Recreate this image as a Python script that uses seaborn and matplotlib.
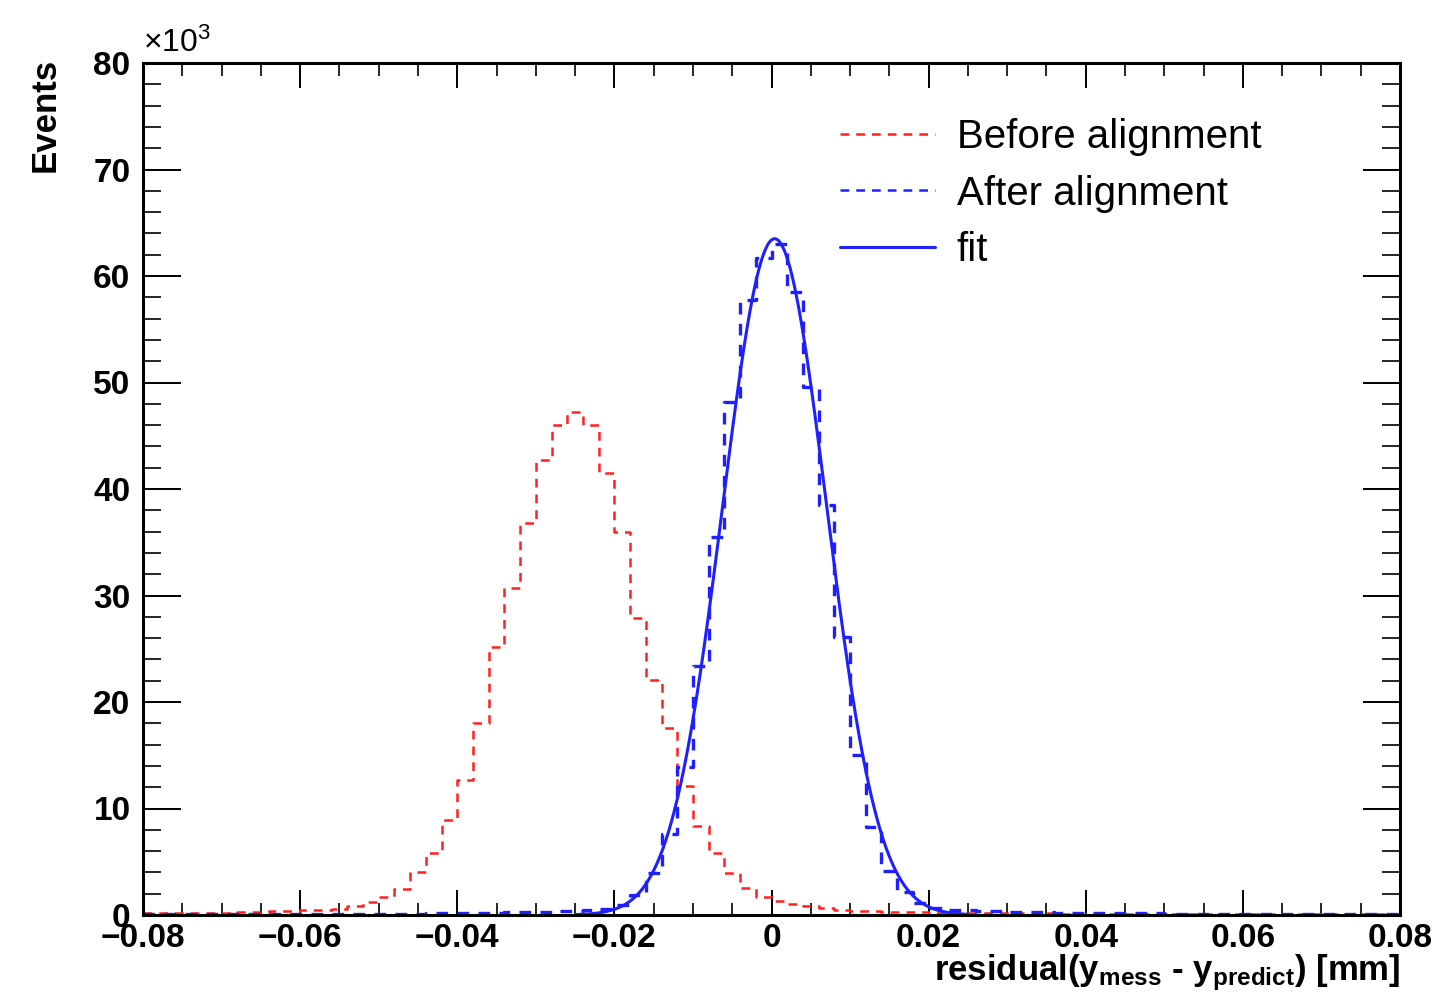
import numpy as np
import pandas as pd
import matplotlib
matplotlib.use("Agg")
import matplotlib.pyplot as plt
from matplotlib.ticker import MultipleLocator, FuncFormatter
from matplotlib.lines import Line2D
import seaborn as sns

# 80 bins of 0.002 mm from -0.08 to 0.08, counts in units of 10^3 events
bin_width = 0.002
x_range = (-0.08, 0.08)

before_counts = [
    0.15, 0.15, 0.18, 0.20, 0.20, 0.22, 0.25, 0.30, 0.35, 0.40,
    0.45, 0.50, 0.60, 0.80, 1.2, 1.7, 2.4, 4.0, 5.8, 8.9,
    12.7, 18.0, 25.2, 30.7, 36.8, 42.7, 46.0, 47.2, 46.0, 41.5,
    36.0, 27.9, 22.1, 17.6, 12.1, 8.4, 5.8, 3.9, 2.5, 1.7,
    1.3, 1.0, 0.80, 0.65, 0.50, 0.40, 0.35, 0.30, 0.28, 0.25,
    0.22, 0.20, 0.20, 0.18, 0.17, 0.16, 0.15, 0.15, 0.14, 0.13,
    0.12, 0.12, 0.11, 0.11, 0.10, 0.10, 0.10, 0.09, 0.09, 0.09,
    0.09, 0.08, 0.08, 0.08, 0.08, 0.08, 0.08, 0.08, 0.08, 0.08,
]

after_counts = [
    0.10, 0.10, 0.10, 0.10, 0.10, 0.10, 0.10, 0.10, 0.10, 0.10,
    0.12, 0.12, 0.12, 0.13, 0.13, 0.13, 0.14, 0.14, 0.15, 0.15,
    0.18, 0.20, 0.22, 0.25, 0.30, 0.30, 0.35, 0.40, 0.50, 0.60,
    0.90, 1.9, 3.9, 7.6, 13.9, 23.4, 35.5, 48.2, 57.7, 61.7,
    63.0, 58.5, 49.6, 38.5, 26.1, 15.0, 8.3, 4.1, 2.2, 1.1,
    0.70, 0.50, 0.45, 0.40, 0.35, 0.30, 0.28, 0.25, 0.22, 0.20,
    0.15, 0.15, 0.15, 0.15, 0.15, 0.14, 0.14, 0.13, 0.13, 0.12,
    0.10, 0.10, 0.10, 0.10, 0.10, 0.10, 0.10, 0.10, 0.10, 0.10,
]

# gaussian fit to the "after" histogram
fit_const = 63.5
fit_mean = 0.0004
fit_sigma = 0.0066
fit_range = (-0.025, 0.025)

labels = ["Before alignment", "After alignment", "fit"]

centers = np.round(x_range[0] + bin_width * (np.arange(len(before_counts)) + 0.5), 5)
df = pd.DataFrame({"x": centers, "before": before_counts, "after": after_counts})

xf = np.linspace(fit_range[0], fit_range[1], 400)
fit_df = pd.DataFrame({"x": xf,
                       "y": fit_const * np.exp(-0.5 * ((xf - fit_mean) / fit_sigma) ** 2)})

sns.set_style("ticks")
plt.rcParams["font.family"] = ["Liberation Sans", "DejaVu Sans"]
plt.rcParams["mathtext.default"] = "regular"
plt.rcParams["text.color"] = "black"
plt.rcParams["xtick.color"] = "black"
plt.rcParams["ytick.color"] = "black"

fig = plt.figure(figsize=(14.35, 10.01), dpi=100)
ax = fig.add_axes([143 / 1435, 1 - 915 / 1001, 1257 / 1435, 852 / 1001])

red = "#ff2020"
blue = "#2020ff"
dash = (0, (3.5, 2.8))

sns.histplot(x=df["x"], weights=df["before"], binwidth=bin_width, binrange=x_range,
             element="step", fill=False, color=red, linestyle=dash, linewidth=1.8, ax=ax)
sns.histplot(x=df["x"], weights=df["after"], binwidth=bin_width, binrange=x_range,
             element="step", fill=False, color=blue, linestyle=dash, linewidth=2.4, ax=ax)
sns.lineplot(data=fit_df, x="x", y="y", color=blue, linewidth=2.2, ax=ax)

ax.set_xlim(*x_range)
ax.set_ylim(0, 80)
ax.set_xlabel("")
ax.set_ylabel("")

ax.xaxis.set_major_locator(MultipleLocator(0.02))
ax.xaxis.set_minor_locator(MultipleLocator(0.005))
ax.yaxis.set_major_locator(MultipleLocator(10))
ax.yaxis.set_minor_locator(MultipleLocator(2))
ax.xaxis.set_major_formatter(FuncFormatter(lambda v, p: "0" if abs(v) < 1e-9 else f"{v:.2f}".replace("-", "\u2212")))
ax.yaxis.set_major_formatter(FuncFormatter(lambda v, p: f"{v:.0f}"))

ax.tick_params(axis="x", which="major", direction="in", top=True, bottom=True,
               length=18, width=1.4, pad=6, labelsize=24)
ax.tick_params(axis="x", which="minor", direction="in", top=True, bottom=True,
               length=9, width=1.2)
ax.tick_params(axis="y", which="major", direction="in", left=True, right=True,
               length=27, width=1.4, pad=9, labelsize=24)
ax.tick_params(axis="y", which="minor", direction="in", left=True, right=True,
               length=13, width=1.2)
for lab in ax.get_xticklabels() + ax.get_yticklabels():
    lab.set_fontweight("bold")
for sp in ax.spines.values():
    sp.set_visible(True)
    sp.set_linewidth(2.2)
    sp.set_color("black")

handles = [
    Line2D([], [], color=red, linestyle=dash, linewidth=1.8),
    Line2D([], [], color=blue, linestyle=dash, linewidth=1.8),
    Line2D([], [], color=blue, linewidth=2.2),
]
ax.legend(handles, labels, loc="upper left", bbox_to_anchor=(0.5545, 0.935),
          frameon=False, fontsize=29, handlelength=2.35, handletextpad=0.55,
          labelspacing=0.45, borderpad=0, borderaxespad=0)

fig.text(45 / 1435, 1 - 58 / 1001, "Events", rotation=90, ha="center", va="top",
         fontsize=25, fontweight="bold")
fig.text(1400 / 1435, 1 - 980 / 1001,
         r"residual($y_{mess}$ - $y_{predict}$) [mm]",
         ha="right", va="baseline", fontsize=25, fontweight="bold")
fig.text(143 / 1435, 1 - 52 / 1001, r"$\times$10$^{3}$", ha="left", va="baseline",
         fontsize=23)

fig.savefig("out.png", dpi=100)
